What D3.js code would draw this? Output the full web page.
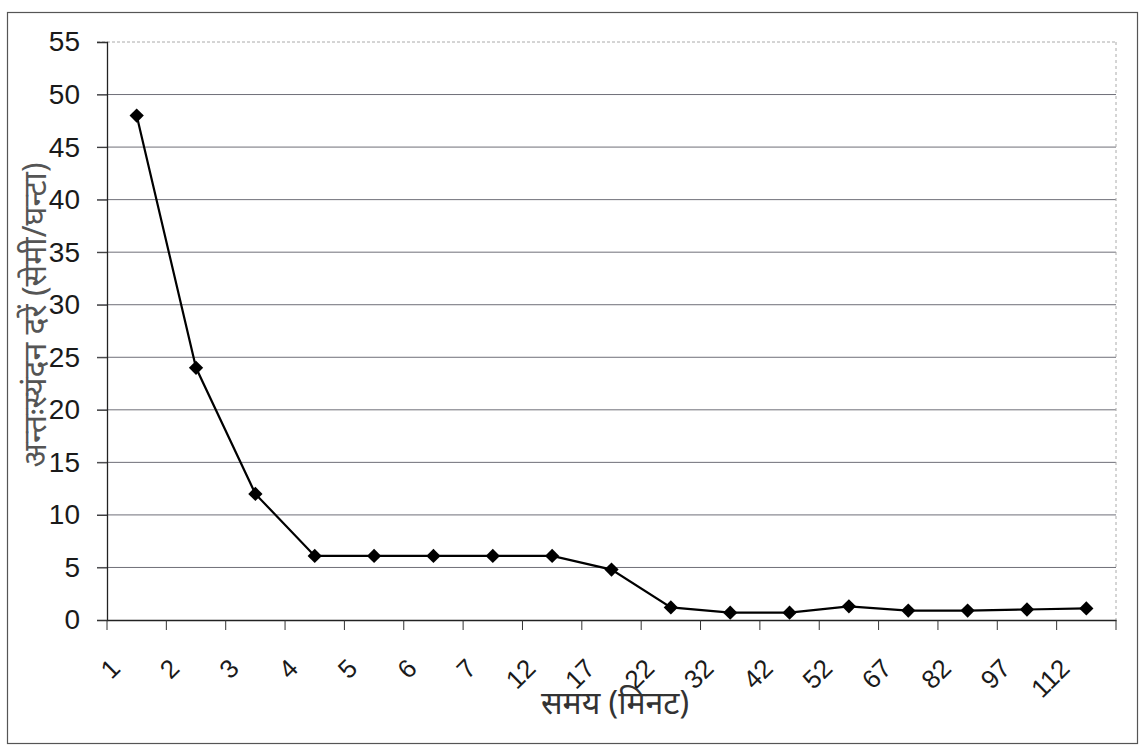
<!DOCTYPE html>
<html>
<head>
<meta charset="utf-8">
<script src="https://cdn.jsdelivr.net/npm/d3@7"></script>
<style>
  html, body { margin: 0; padding: 0; background: #fff; }
  svg { display: block; }
</style>
</head>
<body>
<svg id="chart" width="1144" height="748"></svg>
<script>
// ---- data ----
const categories = ["1", "2", "3", "4", "5", "6", "7", "12", "17", "22", "32", "42", "52", "67", "82", "97", "112"];
const values = [48, 24, 12, 6.1, 6.1, 6.1, 6.1, 6.1, 4.8, 1.2, 0.7, 0.7, 1.3, 0.9, 0.9, 1.0, 1.1];
const yTicks = [0, 5, 10, 15, 20, 25, 30, 35, 40, 45, 50, 55];
const xTitle = "समय (मिनट)";
const yTitle = "अन्तःस्यंदन दरें (सेमी/घन्टा)";

// ---- layout ----
const svg = d3.select("#chart");
const plot = { left: 107, right: 1116, top: 42, bottom: 620 };
const font = "'Liberation Sans', Arial, 'Noto Sans', sans-serif";

// outer frame
svg.append("rect")
  .attr("x", 7.5).attr("y", 12.5)
  .attr("width", 1130).attr("height", 731)
  .attr("fill", "none").attr("stroke", "#555").attr("stroke-width", 1.2);

const x = d3.scaleBand().domain(categories).range([plot.left, plot.right]).paddingInner(0).paddingOuter(0);
const y = d3.scaleLinear().domain([0, 55]).range([plot.bottom, plot.top]);

// gridlines
svg.append("g")
  .selectAll("line")
  .data(yTicks.filter(d => d > 0))
  .join("line")
  .attr("x1", plot.left - 10).attr("x2", plot.right)
  .attr("y1", d => y(d)).attr("y2", d => y(d))
  .attr("stroke", d => d === 55 ? "#aaa" : "#6f6f78")
  .attr("stroke-width", 1)
  .attr("stroke-dasharray", d => d === 55 ? "3,2" : null);

// right border of plot area (faint)
svg.append("line")
  .attr("x1", plot.right).attr("x2", plot.right)
  .attr("y1", plot.top).attr("y2", plot.bottom)
  .attr("stroke", "#aaa").attr("stroke-dasharray", "3,3");

// y axis
const yAxis = d3.axisLeft(y).tickValues(yTicks).tickSize(10).tickPadding(17);
const gy = svg.append("g").attr("transform", `translate(${plot.left},0)`).call(yAxis);
gy.select(".domain").attr("stroke", "#222").attr("stroke-width", 1.3);
gy.selectAll(".tick line").attr("stroke", "#333");
gy.selectAll(".tick text")
  .attr("font-family", font).attr("font-size", 28).attr("fill", "#1a1a1a");

// x axis
const xAxis = d3.axisBottom(x).tickSize(0).tickFormat("");
const gx = svg.append("g").attr("transform", `translate(0,${plot.bottom})`).call(xAxis);
gx.select(".domain").attr("stroke", "#222").attr("stroke-width", 1.5);
// category boundary ticks
gx.selectAll(".bound")
  .data(categories.concat(["__end"]))
  .join("line")
  .attr("class", "bound")
  .attr("x1", (d, i) => plot.left + i * x.bandwidth())
  .attr("x2", (d, i) => plot.left + i * x.bandwidth())
  .attr("y1", 0).attr("y2", 10)
  .attr("stroke", "#333");

// rotated category labels
svg.append("g")
  .selectAll("text")
  .data(categories)
  .join("text")
  .attr("transform", d => `translate(${x(d) + x.bandwidth() / 2 - 15},${670}) rotate(-45)`)
  .attr("text-anchor", "end")
  .attr("font-family", font).attr("font-size", 26).attr("fill", "#1a1a1a")
  .text(d => d);

// line
const line = d3.line()
  .x((d, i) => x(categories[i]) + x.bandwidth() / 2)
  .y(d => y(d));
svg.append("path")
  .datum(values)
  .attr("d", line)
  .attr("fill", "none").attr("stroke", "#000").attr("stroke-width", 2.2);

// diamond markers
const diamond = d3.symbol().type(d3.symbolDiamond2).size(130);
svg.append("g")
  .selectAll("path")
  .data(values)
  .join("path")
  .attr("d", diamond)
  .attr("transform", (d, i) => `translate(${x(categories[i]) + x.bandwidth() / 2},${y(d)})`)
  .attr("fill", "#000");

// axis titles
svg.append("text")
  .attr("x", 615).attr("y", 714)
  .attr("text-anchor", "middle")
  .attr("font-family", "'Noto Sans', 'Liberation Sans', sans-serif")
  .attr("font-size", 32).attr("fill", "#333")
  .text(xTitle);

svg.append("text")
  .attr("transform", "translate(46,315) rotate(-90)")
  .attr("text-anchor", "middle")
  .attr("font-family", "'Noto Sans', 'Liberation Sans', sans-serif")
  .attr("font-size", 32).attr("fill", "#555")
  .text(yTitle);
</script>
</body>
</html>
